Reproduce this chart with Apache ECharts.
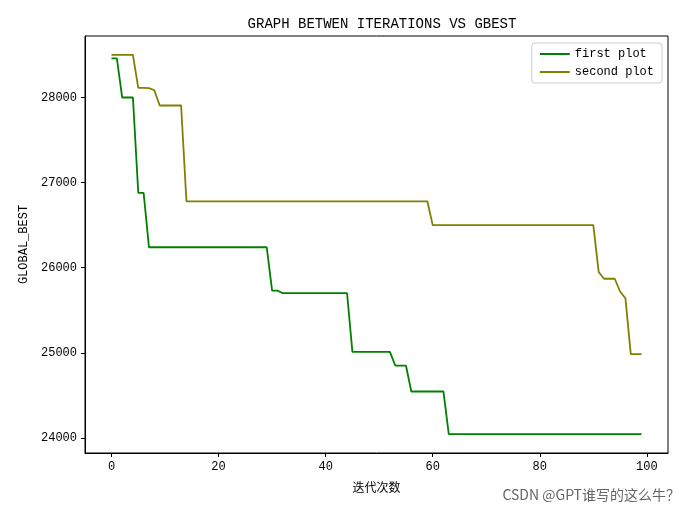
<!DOCTYPE html>
<html>
<head>
<meta charset="utf-8">
<script src="https://cdn.jsdelivr.net/npm/echarts@6/dist/echarts.min.js"></script>
<style>html,body{margin:0;padding:0;background:#fff}#c{width:692px;height:516px}</style>
</head>
<body>
<div id="c"></div>
<script>
// values
var firstPlot = [
  28459, 28459, 28000, 28000, 28000, 26880, 26880,
  26240, 26240, 26240, 26240, 26240, 26240, 26240, 26240, 26240, 26240, 26240, 26240,
  26240, 26240, 26240, 26240, 26240, 26240, 26240, 26240, 26240, 26240, 26240,
  25730, 25730,
  25700, 25700, 25700, 25700, 25700, 25700, 25700, 25700, 25700, 25700, 25700, 25700, 25700,
  25010, 25010, 25010, 25010, 25010, 25010, 25010, 25010,
  24850, 24850, 24850,
  24545, 24545, 24545, 24545, 24545, 24545, 24545,
  24045, 24045, 24045, 24045, 24045, 24045, 24045, 24045, 24045, 24045, 24045, 24045, 24045,
  24045, 24045, 24045, 24045, 24045, 24045, 24045, 24045, 24045, 24045, 24045, 24045, 24045,
  24045, 24045, 24045, 24045, 24045, 24045, 24045, 24045, 24045, 24045, 24045
];
var secondPlot = [
  28500, 28500, 28500, 28500, 28500, 28114, 28114, 28110, 28085,
  27906, 27906, 27906, 27906, 27906,
  26780, 26780, 26780, 26780, 26780, 26780, 26780, 26780, 26780, 26780, 26780, 26780,
  26780, 26780, 26780, 26780, 26780, 26780, 26780, 26780, 26780, 26780, 26780, 26780,
  26780, 26780, 26780, 26780, 26780, 26780, 26780, 26780, 26780, 26780, 26780, 26780,
  26780, 26780, 26780, 26780, 26780, 26780, 26780, 26780, 26780, 26780,
  26500, 26500, 26500, 26500, 26500, 26500, 26500, 26500, 26500, 26500, 26500,
  26500, 26500, 26500, 26500, 26500, 26500, 26500, 26500, 26500, 26500, 26500,
  26500, 26500, 26500, 26500, 26500, 26500, 26500, 26500, 26500,
  25950, 25870, 25870, 25870, 25720, 25640, 24985, 24985, 24985
];
var xTicks = [0, 20, 40, 60, 80, 100];
var yTicks = [24000, 25000, 26000, 27000, 28000];

function pairs(arr) { return arr.map(function (v, i) { return [i, v]; }); }
function plain(v) { return String(v); }

var font = '"Liberation Mono", "Noto Sans CJK SC", monospace';
var chart = echarts.init(document.getElementById('c'));
chart.setOption({
  backgroundColor: '#fff',
  animation: false,
  title: {
    text: 'GRAPH BETWEN ITERATIONS VS GBEST', left: 377, top: 12, textAlign: 'center',
    textStyle: { fontFamily: font, fontSize: 14, fontWeight: 'normal', color: '#000' }
  },
  legend: {
    right: 30, top: 43, orient: 'vertical', itemWidth: 30, itemHeight: 2, itemGap: 6,
    borderColor: '#ccc', borderWidth: 1, borderRadius: 3, padding: [5, 8],
    icon: 'rect',
    textStyle: { fontFamily: font, fontSize: 12, color: '#000' },
    data: ['first plot', 'second plot']
  },
  grid: { left: 85, right: 24, top: 36, bottom: 63 },
  xAxis: {
    type: 'value', min: -4.95, max: 103.95,
    name: '迭代次数', nameLocation: 'middle', nameGap: 28,
    nameTextStyle: { fontFamily: '"Noto Sans CJK SC"', fontSize: 12, color: '#000' },
    axisLine: { onZero: false, lineStyle: { color: '#000' } },
    axisTick: { show: true, length: 4, customValues: xTicks, lineStyle: { color: '#000' } },
    axisLabel: { customValues: xTicks, formatter: plain, fontFamily: font, fontSize: 12, color: '#000' },
    splitLine: { show: false }
  },
  yAxis: {
    type: 'value', min: 23822, max: 28723,
    name: 'GLOBAL_BEST', nameLocation: 'middle', nameGap: 54,
    nameTextStyle: { fontFamily: font, fontSize: 12, color: '#000' },
    axisLine: { show: true, onZero: false, lineStyle: { color: '#000' } },
    axisTick: { show: true, length: 4, customValues: yTicks, lineStyle: { color: '#000' } },
    axisLabel: { customValues: yTicks, formatter: plain, fontFamily: font, fontSize: 12, color: '#000' },
    splitLine: { show: false }
  },
  series: [
    { name: 'first plot', type: 'line', data: pairs(firstPlot), showSymbol: false,
      itemStyle: { color: '#008000' }, lineStyle: { color: '#008000', width: 1.8 } },
    { name: 'second plot', type: 'line', data: pairs(secondPlot), showSymbol: false,
      itemStyle: { color: '#808000' }, lineStyle: { color: '#808000', width: 1.8 } }
  ],
  graphic: [
    { type: 'rect', shape: { x: 85, y: 36, width: 583, height: 417 },
      style: { fill: 'none', stroke: '#000', lineWidth: 1 }, silent: true },
    { type: 'text', right: 12, bottom: 14,
      style: { text: 'CSDN @GPT谁写的这么牛？', fontFamily: '"Noto Sans CJK SC"', fontSize: 14, fill: '#666' } }
  ]
});
</script>
</body>
</html>
